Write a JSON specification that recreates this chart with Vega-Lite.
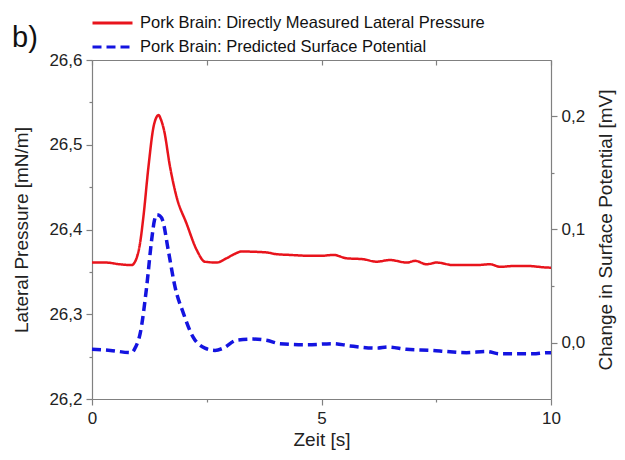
{
  "$schema": "https://vega.github.io/schema/vega-lite/v6.json",
  "autosize": {"type": "none"},
  "padding": {"left": 92, "top": 60, "right": 74, "bottom": 61},
  "width": 459,
  "height": 339,
  "background": "white",
  "title": {"text": "b)", "anchor": "start", "frame": "group", "dx": -80, "offset": -38, "fontSize": 29, "fontWeight": "normal", "font": "Liberation Sans", "color": "#111"},
  "config": {
    "view": {"stroke": null},
    "font": "Liberation Sans",
    "axis": {"grid": false, "domainColor": "#808080", "tickColor": "#808080", "domainWidth": 1.2, "tickWidth": 1.2, "labelColor": "#222", "labelFont": "Liberation Sans", "labelFontSize": 17, "titleFont": "Liberation Sans", "titleFontSize": 19, "titleFontWeight": "normal", "titleColor": "#222"},
    "legend": {"labelFont": "Liberation Sans", "labelFontSize": 16.5, "labelColor": "#111"}
  },
  "data": {"values": [
    {"t": 0, "v": 26.361, "s": "Pork Brain: Directly Measured Lateral Pressure"},
    {"t": 0.3, "v": 26.361, "s": "Pork Brain: Directly Measured Lateral Pressure"},
    {"t": 0.6, "v": 26.359, "s": "Pork Brain: Directly Measured Lateral Pressure"},
    {"t": 0.86, "v": 26.358, "s": "Pork Brain: Directly Measured Lateral Pressure"},
    {"t": 0.97, "v": 26.366, "s": "Pork Brain: Directly Measured Lateral Pressure"},
    {"t": 1.05, "v": 26.385, "s": "Pork Brain: Directly Measured Lateral Pressure"},
    {"t": 1.12, "v": 26.415, "s": "Pork Brain: Directly Measured Lateral Pressure"},
    {"t": 1.23, "v": 26.474, "s": "Pork Brain: Directly Measured Lateral Pressure"},
    {"t": 1.34, "v": 26.521, "s": "Pork Brain: Directly Measured Lateral Pressure"},
    {"t": 1.40, "v": 26.532, "s": "Pork Brain: Directly Measured Lateral Pressure"},
    {"t": 1.45, "v": 26.535, "s": "Pork Brain: Directly Measured Lateral Pressure"},
    {"t": 1.50, "v": 26.530, "s": "Pork Brain: Directly Measured Lateral Pressure"},
    {"t": 1.57, "v": 26.517, "s": "Pork Brain: Directly Measured Lateral Pressure"},
    {"t": 1.70, "v": 26.474, "s": "Pork Brain: Directly Measured Lateral Pressure"},
    {"t": 1.84, "v": 26.439, "s": "Pork Brain: Directly Measured Lateral Pressure"},
    {"t": 2.06, "v": 26.407, "s": "Pork Brain: Directly Measured Lateral Pressure"},
    {"t": 2.28, "v": 26.376, "s": "Pork Brain: Directly Measured Lateral Pressure"},
    {"t": 2.46, "v": 26.362, "s": "Pork Brain: Directly Measured Lateral Pressure"},
    {"t": 2.71, "v": 26.361, "s": "Pork Brain: Directly Measured Lateral Pressure"},
    {"t": 2.93, "v": 26.366, "s": "Pork Brain: Directly Measured Lateral Pressure"},
    {"t": 3.1, "v": 26.371, "s": "Pork Brain: Directly Measured Lateral Pressure"},
    {"t": 3.26, "v": 26.374, "s": "Pork Brain: Directly Measured Lateral Pressure"},
    {"t": 3.8, "v": 26.373, "s": "Pork Brain: Directly Measured Lateral Pressure"},
    {"t": 4.0, "v": 26.371, "s": "Pork Brain: Directly Measured Lateral Pressure"},
    {"t": 4.31, "v": 26.370, "s": "Pork Brain: Directly Measured Lateral Pressure"},
    {"t": 4.75, "v": 26.369, "s": "Pork Brain: Directly Measured Lateral Pressure"},
    {"t": 5.0, "v": 26.369, "s": "Pork Brain: Directly Measured Lateral Pressure"},
    {"t": 5.26, "v": 26.370, "s": "Pork Brain: Directly Measured Lateral Pressure"},
    {"t": 5.55, "v": 26.366, "s": "Pork Brain: Directly Measured Lateral Pressure"},
    {"t": 5.9, "v": 26.365, "s": "Pork Brain: Directly Measured Lateral Pressure"},
    {"t": 6.2, "v": 26.362, "s": "Pork Brain: Directly Measured Lateral Pressure"},
    {"t": 6.49, "v": 26.364, "s": "Pork Brain: Directly Measured Lateral Pressure"},
    {"t": 6.86, "v": 26.361, "s": "Pork Brain: Directly Measured Lateral Pressure"},
    {"t": 7.04, "v": 26.363, "s": "Pork Brain: Directly Measured Lateral Pressure"},
    {"t": 7.29, "v": 26.359, "s": "Pork Brain: Directly Measured Lateral Pressure"},
    {"t": 7.51, "v": 26.361, "s": "Pork Brain: Directly Measured Lateral Pressure"},
    {"t": 7.87, "v": 26.358, "s": "Pork Brain: Directly Measured Lateral Pressure"},
    {"t": 8.38, "v": 26.358, "s": "Pork Brain: Directly Measured Lateral Pressure"},
    {"t": 8.67, "v": 26.359, "s": "Pork Brain: Directly Measured Lateral Pressure"},
    {"t": 8.89, "v": 26.356, "s": "Pork Brain: Directly Measured Lateral Pressure"},
    {"t": 9.2, "v": 26.357, "s": "Pork Brain: Directly Measured Lateral Pressure"},
    {"t": 9.47, "v": 26.357, "s": "Pork Brain: Directly Measured Lateral Pressure"},
    {"t": 9.98, "v": 26.355, "s": "Pork Brain: Directly Measured Lateral Pressure"},
    {"t": 10, "v": 26.355, "s": "Pork Brain: Directly Measured Lateral Pressure"},
    {"t": 0, "v": -0.006, "s": "Pork Brain: Predicted Surface Potential"},
    {"t": 0.4, "v": -0.007, "s": "Pork Brain: Predicted Surface Potential"},
    {"t": 0.86, "v": -0.009, "s": "Pork Brain: Predicted Surface Potential"},
    {"t": 0.95, "v": -0.004, "s": "Pork Brain: Predicted Surface Potential"},
    {"t": 1.05, "v": 0.008, "s": "Pork Brain: Predicted Surface Potential"},
    {"t": 1.19, "v": 0.049, "s": "Pork Brain: Predicted Surface Potential"},
    {"t": 1.30, "v": 0.091, "s": "Pork Brain: Predicted Surface Potential"},
    {"t": 1.36, "v": 0.108, "s": "Pork Brain: Predicted Surface Potential"},
    {"t": 1.41, "v": 0.113, "s": "Pork Brain: Predicted Surface Potential"},
    {"t": 1.48, "v": 0.112, "s": "Pork Brain: Predicted Surface Potential"},
    {"t": 1.54, "v": 0.108, "s": "Pork Brain: Predicted Surface Potential"},
    {"t": 1.66, "v": 0.082, "s": "Pork Brain: Predicted Surface Potential"},
    {"t": 1.81, "v": 0.049, "s": "Pork Brain: Predicted Surface Potential"},
    {"t": 1.99, "v": 0.026, "s": "Pork Brain: Predicted Surface Potential"},
    {"t": 2.20, "v": 0.005, "s": "Pork Brain: Predicted Surface Potential"},
    {"t": 2.46, "v": -0.005, "s": "Pork Brain: Predicted Surface Potential"},
    {"t": 2.68, "v": -0.007, "s": "Pork Brain: Predicted Surface Potential"},
    {"t": 2.86, "v": -0.005, "s": "Pork Brain: Predicted Surface Potential"},
    {"t": 3.15, "v": 0.002, "s": "Pork Brain: Predicted Surface Potential"},
    {"t": 3.51, "v": 0.003, "s": "Pork Brain: Predicted Surface Potential"},
    {"t": 3.80, "v": 0.002, "s": "Pork Brain: Predicted Surface Potential"},
    {"t": 4.09, "v": -0.001, "s": "Pork Brain: Predicted Surface Potential"},
    {"t": 4.67, "v": -0.002, "s": "Pork Brain: Predicted Surface Potential"},
    {"t": 5.26, "v": -0.001, "s": "Pork Brain: Predicted Surface Potential"},
    {"t": 5.62, "v": -0.003, "s": "Pork Brain: Predicted Surface Potential"},
    {"t": 6.20, "v": -0.005, "s": "Pork Brain: Predicted Surface Potential"},
    {"t": 6.45, "v": -0.004, "s": "Pork Brain: Predicted Surface Potential"},
    {"t": 6.85, "v": -0.006, "s": "Pork Brain: Predicted Surface Potential"},
    {"t": 7.43, "v": -0.007, "s": "Pork Brain: Predicted Surface Potential"},
    {"t": 7.72, "v": -0.008, "s": "Pork Brain: Predicted Surface Potential"},
    {"t": 8.16, "v": -0.009, "s": "Pork Brain: Predicted Surface Potential"},
    {"t": 8.59, "v": -0.008, "s": "Pork Brain: Predicted Surface Potential"},
    {"t": 8.89, "v": -0.010, "s": "Pork Brain: Predicted Surface Potential"},
    {"t": 9.61, "v": -0.010, "s": "Pork Brain: Predicted Surface Potential"},
    {"t": 9.90, "v": -0.009, "s": "Pork Brain: Predicted Surface Potential"},
    {"t": 10, "v": -0.009, "s": "Pork Brain: Predicted Surface Potential"}
  ]},
  "layer": [
    {
      "transform": [{"filter": "datum.s === 'Pork Brain: Directly Measured Lateral Pressure'"}],
      "mark": {"type": "line", "interpolate": "monotone", "strokeWidth": 2.5},
      "encoding": {
        "x": {"field": "t", "type": "quantitative", "scale": {"domain": [0, 10], "nice": false},
          "axis": {"orient": "bottom", "title": "Zeit [s]", "values": [0, 2.5, 5, 7.5, 10],
            "labelExpr": "datum.value % 5 === 0 ? format(datum.value, 'd') : ''",
            "tickSize": {"condition": {"test": "datum.value % 5 === 0", "value": 6}, "value": 3},
            "labelPadding": 5, "titlePadding": 4, "labelFlush": false}},
        "y": {"field": "v", "type": "quantitative", "scale": {"domain": [26.2, 26.6], "nice": false, "zero": false},
          "axis": {"orient": "left", "title": "Lateral Pressure [mN/m]",
            "values": [26.2, 26.25, 26.3, 26.35, 26.4, 26.45, 26.5, 26.55, 26.6],
            "labelExpr": "abs(datum.value * 10 - round(datum.value * 10)) < 0.01 ? replace(format(datum.value, '.1f'), '.', ',') : ''",
            "tickSize": {"condition": {"test": "abs(datum.value * 10 - round(datum.value * 10)) < 0.01", "value": 6}, "value": 3},
            "labelPadding": 4, "titlePadding": 17, "labelFlush": false}},
        "color": {"field": "s", "type": "nominal",
          "scale": {"domain": ["Pork Brain: Directly Measured Lateral Pressure", "Pork Brain: Predicted Surface Potential"], "range": ["#e8141c", "#1414e0"]},
          "legend": {"orient": "none", "legendX": -1, "legendY": -45, "title": null, "symbolType": "stroke", "symbolSize": 1600, "symbolStrokeWidth": 3, "labelOffset": 6, "clipHeight": 16, "rowPadding": 7, "padding": 0, "labelLimit": 500}},
        "strokeDash": {"field": "s", "type": "nominal",
          "scale": {"domain": ["Pork Brain: Directly Measured Lateral Pressure", "Pork Brain: Predicted Surface Potential"], "range": [[1, 0], [9, 5]]},
          "legend": {"orient": "none", "legendX": -1, "legendY": -45, "title": null, "symbolType": "stroke", "symbolSize": 1600, "symbolStrokeWidth": 3, "labelOffset": 6, "clipHeight": 16, "rowPadding": 7, "padding": 0, "labelLimit": 500}}
      }
    },
    {
      "transform": [{"filter": "datum.s === 'Pork Brain: Predicted Surface Potential'"}],
      "mark": {"type": "line", "interpolate": "monotone", "strokeWidth": 3.5},
      "encoding": {
        "x": {"field": "t", "type": "quantitative", "scale": {"domain": [0, 10], "nice": false},
          "axis": {"orient": "top", "title": null, "labels": false, "values": [0, 2.5, 5, 7.5, 10], "tickSize": -5}},
        "y": {"field": "v", "type": "quantitative", "scale": {"domain": [-0.05, 0.25], "nice": false, "zero": false},
          "axis": {"orient": "right", "title": "Change in Surface Potential [mV]", "titleAngle": -90,
            "values": [0, 0.05, 0.1, 0.15, 0.2],
            "labelExpr": "abs(datum.value * 10 - round(datum.value * 10)) < 0.01 ? replace(format(datum.value, '.1f'), '.', ',') : ''",
            "tickSize": {"condition": {"test": "abs(datum.value * 10 - round(datum.value * 10)) < 0.01", "value": 6}, "value": 3},
            "labelPadding": 4, "titlePadding": 31}},
        "color": {"field": "s", "type": "nominal"},
        "strokeDash": {"field": "s", "type": "nominal"}
      }
    }
  ],
  "resolve": {"scale": {"y": "independent"}, "axis": {"x": "independent"}}
}
